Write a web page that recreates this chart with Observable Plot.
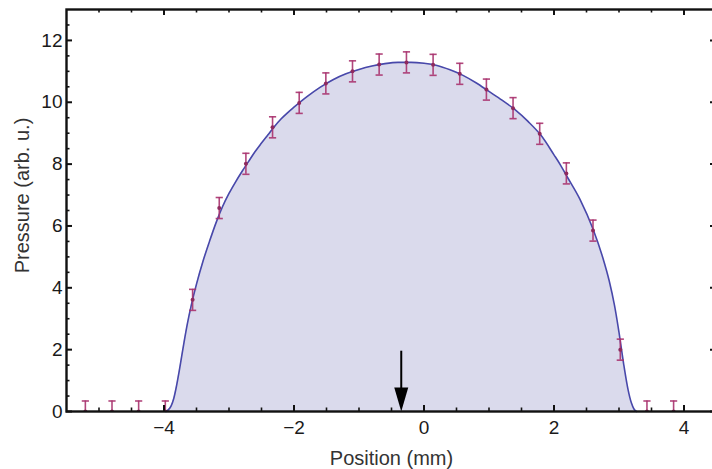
<!DOCTYPE html>
<html>
<head>
<meta charset="utf-8">
<script src="https://cdn.jsdelivr.net/npm/d3@7"></script>
<script src="https://cdn.jsdelivr.net/npm/@observablehq/plot@0.6"></script>
<style>
  html, body { margin: 0; padding: 0; background: #fff; overflow: hidden; }
  #chart { width: 712px; height: 469px; overflow: hidden; }
</style>
</head>
<body>
<div id="chart"></div>
<script>
// Measured pressure at each probe position, with its uncertainty
const positions = [-5.21, -4.80, -4.39, -3.98, -3.56, -3.15, -2.74, -2.33, -1.92, -1.51, -1.10, -0.69,
                   -0.27, 0.14, 0.55, 0.96, 1.37, 1.78, 2.19, 2.60, 3.02, 3.43, 3.84];
const pressures = [0, 0, 0, 0, 3.61, 6.58, 8.01, 9.19, 9.98, 10.61, 11.00, 11.22,
                   11.29, 11.21, 10.92, 10.41, 9.81, 8.98, 7.70, 5.85, 2.00, 0, 0];
const errors = [0.34, 0.34, 0.34, 0.34, 0.34, 0.34, 0.34, 0.34, 0.34, 0.34, 0.34, 0.34,
                0.34, 0.34, 0.34, 0.34, 0.34, 0.34, 0.34, 0.34, 0.34, 0.34, 0.34];

// Fitted pressure profile
const fitX = [-3.97, -3.93, -3.89, -3.85, -3.81, -3.77, -3.73, -3.69, -3.64, -3.58, -3.50, -3.40,
              -3.30, -3.20, -3.10, -3.00, -2.90, -2.80, -2.70, -2.60, -2.50, -2.40, -2.30, -2.20,
              -2.10, -2.00, -1.80, -1.60, -1.40, -1.20, -1.00, -0.80, -0.60, -0.40, -0.20, 0.00,
              0.20, 0.40, 0.60, 0.80, 1.00, 1.20, 1.40, 1.60, 1.80, 2.00, 2.10, 2.20, 2.40, 2.60,
              2.75, 2.85, 2.93, 3.00, 3.07, 3.14, 3.19, 3.23, 3.27];
const fitY = [0, 0.06, 0.18, 0.42, 0.80, 1.26, 1.76, 2.26, 2.84, 3.44, 4.12, 4.86,
              5.50, 6.10, 6.62, 7.05, 7.42, 7.76, 8.08, 8.40, 8.68, 8.95, 9.22, 9.46,
              9.66, 9.84, 10.18, 10.48, 10.73, 10.92, 11.06, 11.17, 11.25, 11.29, 11.29, 11.26,
              11.19, 11.05, 10.87, 10.63, 10.35, 10.07, 9.76, 9.38, 8.93, 8.30, 7.97, 7.60, 6.86, 5.90,
              4.98, 4.22, 3.44, 2.56, 1.56, 0.70, 0.28, 0.08, 0];

// Marker for the centre position
const arrowX = -0.35;
const arrowTop = 1.95;
const arrowTip = 0;

// Axis ticks
const xDomain = [-5.5, 4.5];
const yDomain = [0, 13];
const xMajor = [-4, -2, 0, 2, 4];
const xMinor = [-5, -4.5, -3.5, -3, -2.5, -1.5, -1, -0.5, 0.5, 1, 1.5, 2.5, 3, 3.5];
const yMajor = [0, 2, 4, 6, 8, 10, 12];
const yMinor = [0.5, 1, 1.5, 2.5, 3, 3.5, 4.5, 5, 5.5, 6.5, 7, 7.5, 8.5, 9, 9.5, 10.5, 11, 11.5, 12.5];

const xLabel = "Position (mm)";
const yLabel = "Pressure (arb. u.)";

const points = positions.map((x, i) => ({x, v: pressures[i], e: errors[i]}));
const fit = fitX.map((x, i) => ({x, y: fitY[i]}));

const width = 717, height = 469;
const marginTop = 9, marginBottom = 58, marginLeft = 66, marginRight = 1;
const frameW = width - marginLeft - marginRight;
const frameH = height - marginTop - marginBottom;

const barColor = "#a8326e";
const capSymbol = {draw(ctx) { ctx.moveTo(-3.6, 0); ctx.lineTo(3.6, 0); }};
const headSymbol = {draw(ctx) { ctx.moveTo(0, 0); ctx.lineTo(-7, -24); ctx.lineTo(7, -24); ctx.closePath(); }};

const major = 6, minor = 3.5;

const chart = Plot.plot({
  width, height, marginTop, marginBottom, marginLeft, marginRight,
  style: {fontFamily: "'Liberation Sans', Arial, Helvetica, sans-serif", fontSize: "19px", color: "#1a1a1a", maxWidth: "none", background: "#fff"},
  x: {domain: xDomain, ticks: xMajor, tickSize: 0, tickPadding: 9, label: null},
  y: {domain: yDomain, ticks: yMajor, tickSize: 0, tickPadding: 4, label: null},
  marks: [
    Plot.areaY(fit, {x: "x", y: "y", fill: "#dadaec", curve: "monotone-x"}),
    Plot.line(fit, {x: "x", y: "y", stroke: "#4848aa", strokeWidth: 1.6, curve: "monotone-x"}),
    // error bars
    Plot.ruleX(points, {x: "x", y1: d => d.v - d.e, y2: d => d.v + d.e, stroke: barColor, strokeWidth: 1.6, strokeOpacity: 0.9, clip: true}),
    Plot.dot(points, {x: "x", y: d => d.v + d.e, symbol: capSymbol, fill: "none", stroke: barColor, strokeWidth: 1.6, strokeOpacity: 0.9, clip: true}),
    Plot.dot(points, {x: "x", y: d => d.v - d.e, symbol: capSymbol, fill: "none", stroke: barColor, strokeWidth: 1.6, strokeOpacity: 0.9, clip: true}),
    Plot.dot(points, {x: "x", y: "v", r: 2, fill: "#8e2a5e", stroke: "none", clip: true}),
    // centre arrow
    Plot.ruleX([arrowX], {x: d => d, y1: arrowTip + 0.5, y2: arrowTop, stroke: "#000", strokeWidth: 2}),
    Plot.dot([arrowX], {x: d => d, y: arrowTip, symbol: headSymbol, fill: "#000", stroke: "none"}),
    // frame with inward ticks on all four sides
    Plot.ruleX(xMajor, {x: d => d, insetTop: frameH - major, stroke: "#111", strokeWidth: 2}),
    Plot.ruleX(xMajor, {x: d => d, insetBottom: frameH - major, stroke: "#111", strokeWidth: 2}),
    Plot.ruleX(xMinor, {x: d => d, insetTop: frameH - minor, stroke: "#111", strokeWidth: 1.6}),
    Plot.ruleX(xMinor, {x: d => d, insetBottom: frameH - minor, stroke: "#111", strokeWidth: 1.6}),
    Plot.ruleY(yMajor, {y: d => d, insetRight: frameW - major, stroke: "#111", strokeWidth: 2}),
    Plot.ruleY(yMajor, {y: d => d, insetLeft: frameW - major, stroke: "#111", strokeWidth: 2}),
    Plot.ruleY(yMinor, {y: d => d, insetRight: frameW - minor, stroke: "#111", strokeWidth: 1.6}),
    Plot.ruleY(yMinor, {y: d => d, insetLeft: frameW - minor, stroke: "#111", strokeWidth: 1.6}),
    Plot.frame({stroke: "#111", strokeWidth: 2.4}),
    // axis titles
    Plot.text([xLabel], {text: d => d, frameAnchor: "bottom", textAnchor: "middle", lineAnchor: "middle", dy: 47, fill: "#333", fontSize: 20}),
    Plot.text([yLabel], {text: d => d, frameAnchor: "left", textAnchor: "middle", lineAnchor: "middle", dx: -44, dy: -15, rotate: -90, fill: "#333", fontSize: 20})
  ]
});

document.getElementById("chart").appendChild(chart);
</script>
</body>
</html>
